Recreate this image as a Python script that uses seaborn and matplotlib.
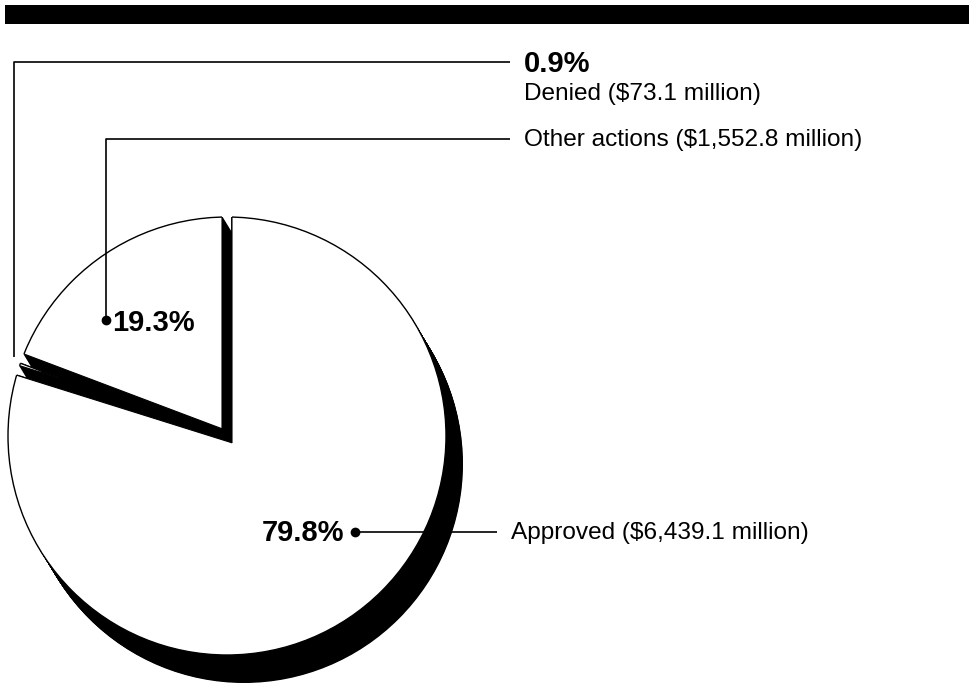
import numpy as np
import matplotlib
matplotlib.use("Agg")
import matplotlib.pyplot as plt
from matplotlib.patches import Circle, Rectangle
import seaborn as sns

# ---- data ----
categories = ["Other actions", "Denied", "Approved"]
amounts_musd = [1552.8, 73.1, 6439.1]

sns.set_theme(style="white")
plt.rcParams['font.family'] = ['Liberation Sans', 'DejaVu Sans']
plt.rcParams['text.color'] = 'black'

W, H = 969, 688
fig = plt.figure(figsize=(W / 100, H / 100), dpi=100)
ax = fig.add_axes([0, 0, 1, 1])


def Y(img_y):
    return H - img_y


cx, cy, r = 227, Y(436), 219
gap = 5.0
sh_dx, sh_dy = 17, -28
R_big = 330

vals = np.array(amounts_musd)
fracs = vals / vals.sum()
explode = gap / np.sin(np.pi * fracs)
pcts = [f"{100 * f:.1f}%" for f in fracs]


def clipped_pie(center, face, edge, lw, z):
    wedges, _ = ax.pie(vals, radius=R_big, center=center, explode=explode,
                       startangle=90, counterclock=True,
                       wedgeprops=dict(facecolor=face, edgecolor=edge, linewidth=lw))
    clip = Circle(center, r, transform=ax.transData)
    for w in wedges:
        w.set_clip_on(True)
        w.set_clip_path(clip)
        w.set_zorder(z)
    return wedges


# extruded shadow
for t in np.linspace(0, 1, 45):
    clipped_pie((cx + sh_dx * t, cy + sh_dy * t), "black", "black", 1.2, 1)

# white faces
faces = clipped_pie((cx, cy), "white", "black", 0.8, 3)
for w in faces:
    arc = Circle((cx, cy), r, fill=False, edgecolor="black", linewidth=1.0,
                 transform=ax.transData, zorder=4)
    ax.add_patch(arc)
    arc.set_clip_on(True)
    arc.set_clip_path(w)

# leader lines
lc = dict(color="black", linewidth=1.2, solid_capstyle="butt", zorder=6)
ax.plot([14, 14, 510], [Y(357), Y(62), Y(62)], **lc)
ax.plot([106, 106, 510], [Y(320), Y(139), Y(139)], **lc)
ax.plot([106], [Y(320)], "o", color="black", ms=6, zorder=6)
ax.plot([355, 497], [Y(532), Y(532)], **lc)
ax.plot([355], [Y(532)], "o", color="black", ms=6, zorder=6)

# labels
fs_r, fs_b = 17.6, 21
ax.text(524, Y(72), pcts[1], fontsize=fs_b, fontweight="bold", ha="left", va="baseline")
ax.text(524, Y(100), f"{categories[1]} (${amounts_musd[1]:,.1f} million)",
        fontsize=fs_r, ha="left", va="baseline")
ax.text(524, Y(140), f"{categories[0]} (${amounts_musd[0]:,.1f} million)",
        fontsize=fs_r, ha="left", va="center")
ax.text(112, Y(323), pcts[0], fontsize=fs_b, fontweight="bold", ha="left", va="center", zorder=7)
ax.text(344, Y(533), pcts[2], fontsize=fs_b, fontweight="bold", ha="right", va="center", zorder=7)
ax.text(511, Y(533), f"{categories[2]} (${amounts_musd[2]:,.1f} million)",
        fontsize=fs_r, ha="left", va="center")

# top bar
ax.add_patch(Rectangle((5, Y(24)), W - 5, 19, facecolor="black", edgecolor="none", zorder=8))

ax.set_xlim(0, W)
ax.set_ylim(0, H)
ax.set_aspect("auto")
ax.axis("off")
fig.savefig("out.png", dpi=100)
